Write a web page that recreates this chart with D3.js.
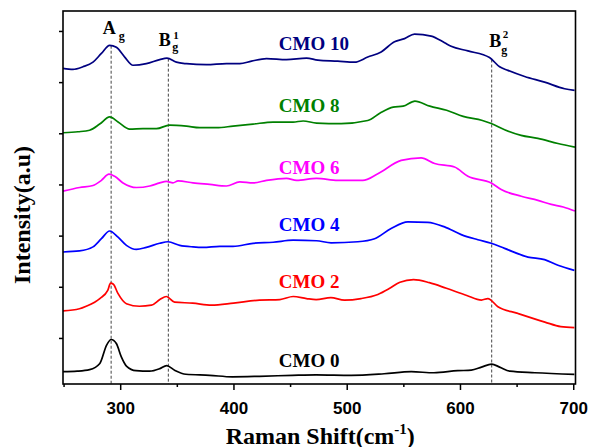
<!DOCTYPE html>
<html>
<head>
<meta charset="utf-8">
<script src="https://cdn.jsdelivr.net/npm/d3@7"></script>
<style>
  body { margin: 0; background: #fff; }
  svg { display: block; }
  .tick text { font-family: Arial, "Liberation Sans", sans-serif; font-weight: bold; font-size: 17px; fill: #000; }
  .serif { font-family: "Times New Roman", "Liberation Serif", serif; font-weight: bold; }
</style>
</head>
<body>
<div id="container"></div>
<script>
// Raman spectra (wavenumber in cm-1, intensity in arbitrary offset units)
const wn0 = [249.5,262,273,282,288,292,296.6,301,305.5,314,326,335,341,348,358,379,399,423,452,473,504,533,557,577,598,610,619,628,635,644,666,701];
const in0 = [0.34,0.35,0.38,0.50,0.86,0.97,0.89,0.63,0.45,0.36,0.35,0.40,0.46,0.37,0.29,0.27,0.24,0.25,0.27,0.28,0.27,0.30,0.34,0.32,0.36,0.37,0.43,0.49,0.43,0.35,0.32,0.29];

const wn2 = [249.5,264,270,282,289,291.5,294,298,305.5,317,327.6,335,340.8,348,364,380.6,400,423,441,452.7,464.5,473,486,498,512.7,527.5,538,547,559,573,588,606,619,624.6,633.5,651,675,689,701];
const in2 = [1.53,1.57,1.62,1.77,1.93,2.07,2.05,1.87,1.67,1.62,1.64,1.75,1.81,1.70,1.68,1.64,1.68,1.74,1.75,1.81,1.77,1.75,1.79,1.74,1.77,1.85,1.97,2.09,2.14,2.08,1.97,1.83,1.74,1.77,1.61,1.48,1.31,1.22,1.20];

const wn4 = [249.5,264,276,283.4,290.7,298.1,305.5,314.3,323.1,334.9,342.2,352.6,364.3,373.1,387.9,399.6,417.3,435,452.7,473.3,486.2,509.8,524.6,539.2,554,571.6,586.4,601.1,615.8,627.6,639.4,660,674.7,686.5,701];
const in4 = [2.68,2.70,2.78,2.94,3.09,2.97,2.81,2.73,2.77,2.85,2.88,2.81,2.78,2.77,2.79,2.79,2.85,2.87,2.91,2.90,2.86,2.88,2.94,3.14,3.27,3.26,3.17,3.02,2.92,2.85,2.75,2.58,2.53,2.42,2.32];

const wn6 = [249.5,264.2,276,283.4,290.1,295.1,302.5,314.3,326.1,334.9,340.8,346.6,351.1,364.3,379.1,393.8,405.6,417.3,429.2,446.8,455.7,473.3,492.1,514.2,527.5,548.1,565.7,577.6,595.2,607,627.6,636.4,654.1,668.8,680.6,691.2,701.5];
const in6 = [3.87,3.94,3.98,4.08,4.20,4.16,4.03,3.94,3.97,4.03,4.06,4.03,4.07,4.03,4.00,3.97,4.05,4.03,4.08,4.12,4.08,4.12,4.08,4.08,4.21,4.47,4.52,4.41,4.34,4.16,4.03,3.90,3.77,3.69,3.61,3.56,3.48];

const wn8 = [249.5,262.7,273,281.9,290.7,298.1,308.4,320.1,332,343.7,358.5,370.2,385,399.6,417.3,435,452.7,461.5,473.3,495.1,518.6,529.2,541,549.8,560.2,573.4,588.2,602.8,619.8,627.6,639.4,654,668.8,686.5,701.5];
const in8 = [5.01,5.03,5.06,5.18,5.32,5.22,5.08,5.09,5.09,5.16,5.14,5.11,5.11,5.14,5.18,5.22,5.22,5.24,5.20,5.19,5.25,5.39,5.51,5.53,5.63,5.53,5.45,5.33,5.25,5.19,5.07,4.96,4.90,4.80,4.73];

const wn10 = [249.5,258.3,267.1,276,283.4,290.7,296.6,304,311.3,323.1,334.9,341.3,349.6,358.5,376.1,393.8,405.6,415.9,429.2,446.8,464.5,474.5,492.1,506.9,518.6,530.4,542.2,551.1,559.9,574.6,586.4,592.2,607,626.1,635,642.3,657.1,674.7,692.4,701.2];
const in10 = [6.27,6.25,6.30,6.39,6.56,6.72,6.68,6.49,6.33,6.36,6.44,6.47,6.39,6.36,6.34,6.36,6.36,6.41,6.46,6.44,6.47,6.43,6.41,6.39,6.49,6.59,6.79,6.85,6.94,6.90,6.77,6.70,6.61,6.48,6.30,6.23,6.11,6.00,5.87,5.84];

const seriesNames = ["CMO 0", "CMO 2", "CMO 4", "CMO 6", "CMO 8", "CMO 10"];
const seriesColors = ["#000000", "#ff0000", "#0000ff", "#ff00ff", "#008000", "#000080"];
// where each series label sits (wavenumber, intensity of baseline)
const labelAt = [[440, 0.43], [440, 1.98], [440, 3.09], [440, 4.21], [440, 5.42], [440, 6.62]];

// Raman modes marked by dashed lines
const modeNames = ["A", "B", "B"];
const modeSub = ["g", "g", "g"];
const modeSup = ["", "1", "2"];
const modeWn = [292, 342.5, 628];

const xTicks = [300, 400, 500, 600, 700];
const xMinor = [250, 350, 450, 550, 650];
const yTicks = [1, 2, 3, 4, 5, 6, 7];

const series = [[wn0, in0], [wn2, in2], [wn4, in4], [wn6, in6], [wn8, in8], [wn10, in10]];

const width = 590, height = 447;
const plotL = 63, plotR = 575.5, plotT = 11, plotB = 384;

const svg = d3.select("#container").append("svg")
  .attr("width", width)
  .attr("height", height);

const x = d3.scaleLinear().domain([249.5, 702]).range([plotL, plotR]);
const y = d3.scaleLinear().domain([0.1, 7.39]).range([plotB, plotT]);

// axes
let xAxis = svg.append("g")
  .attr("transform", `translate(0,${plotB})`)
  .call(d3.axisBottom(x).tickValues(xTicks).tickSize(6).tickPadding(12).tickFormat(d3.format("d")));
xAxis.select(".domain").remove();
xAxis.selectAll("line").attr("stroke", "#000").attr("stroke-width", 1.5);

let xMinorAxis = svg.append("g")
  .attr("transform", `translate(0,${plotB})`)
  .call(d3.axisBottom(x).tickValues(xMinor).tickSize(3).tickFormat(""));
xMinorAxis.select(".domain").remove();
xMinorAxis.selectAll("line").attr("stroke", "#000").attr("stroke-width", 1.5);

let yAxis = svg.append("g")
  .attr("transform", `translate(${plotL},0)`)
  .call(d3.axisLeft(y).tickValues(yTicks).tickSize(4).tickFormat(""));
yAxis.select(".domain").remove();
yAxis.selectAll("line").attr("stroke", "#000").attr("stroke-width", 1.5);

// dashed mode markers, from the top spectrum down to the axis
function topAt(v) {
  const i = d3.bisectLeft(wn10, v);
  const t = (v - wn10[i - 1]) / (wn10[i] - wn10[i - 1]);
  return in10[i - 1] + t * (in10[i] - in10[i - 1]);
}
modeWn.forEach((v) => {
  svg.append("line")
    .attr("x1", x(v)).attr("x2", x(v))
    .attr("y1", y(topAt(v))).attr("y2", plotB)
    .attr("stroke", "#444")
    .attr("stroke-width", 1)
    .attr("stroke-dasharray", "3,2");
});

// spectra
const line = d3.line()
  .x((d) => x(d[0]))
  .y((d) => y(d[1]))
  .curve(d3.curveMonotoneX);

series.forEach((s, k) => {
  const pts = s[0].map((v, i) => [v, s[1][i]]);
  svg.append("path")
    .datum(pts)
    .attr("d", line)
    .attr("fill", "none")
    .attr("stroke", seriesColors[k])
    .attr("stroke-width", 1.7)
    .attr("stroke-linejoin", "round");
});

// series labels
seriesNames.forEach((name, k) => {
  svg.append("text")
    .attr("class", "serif")
    .attr("x", x(labelAt[k][0]))
    .attr("y", y(labelAt[k][1]))
    .attr("font-size", 19)
    .attr("fill", seriesColors[k])
    .text(name);
});

// mode labels (offsets relative to the dashed line)
const modeOffsets = [
  { mx: -8.3, my: 34, sx: 7.5, sy: 39.5, px: 0, py: 0 },
  { mx: -9.6, my: 45.5, sx: 4, sy: 50.5, px: 5, py: 39 },
  { mx: -2.5, my: 46.7, sx: 9.5, sy: 53.5, px: 11, py: 38 }
];
modeWn.forEach((v, k) => {
  const o = modeOffsets[k];
  const cx = x(v);
  svg.append("text").attr("class", "serif")
    .attr("x", cx + o.mx).attr("y", o.my)
    .attr("font-size", 18).text(modeNames[k]);
  svg.append("text").attr("class", "serif")
    .attr("x", cx + o.sx).attr("y", o.sy)
    .attr("font-size", 12).text(modeSub[k]);
  if (modeSup[k])
    svg.append("text").attr("class", "serif")
      .attr("x", cx + o.px).attr("y", o.py)
      .attr("font-size", 11).text(modeSup[k]);
});

// frame
svg.append("rect")
  .attr("x", plotL).attr("y", plotT)
  .attr("width", plotR - plotL).attr("height", plotB - plotT)
  .attr("fill", "none")
  .attr("stroke", "#000")
  .attr("stroke-width", 1.6);

// axis titles
let xt = svg.append("text")
  .attr("class", "serif")
  .attr("x", (plotL + plotR) / 2 + 1)
  .attr("y", 444)
  .attr("text-anchor", "middle")
  .attr("font-size", 24);
xt.append("tspan").text("Raman Shift(cm");
xt.append("tspan").attr("dy", -10).attr("font-size", 15).text("-1");
xt.append("tspan").attr("dy", 10).text(")");

svg.append("text")
  .attr("class", "serif")
  .attr("transform", "translate(30,215) rotate(-90)")
  .attr("text-anchor", "middle")
  .attr("font-size", 24)
  .text("Intensity(a.u)");
</script>
</body>
</html>
